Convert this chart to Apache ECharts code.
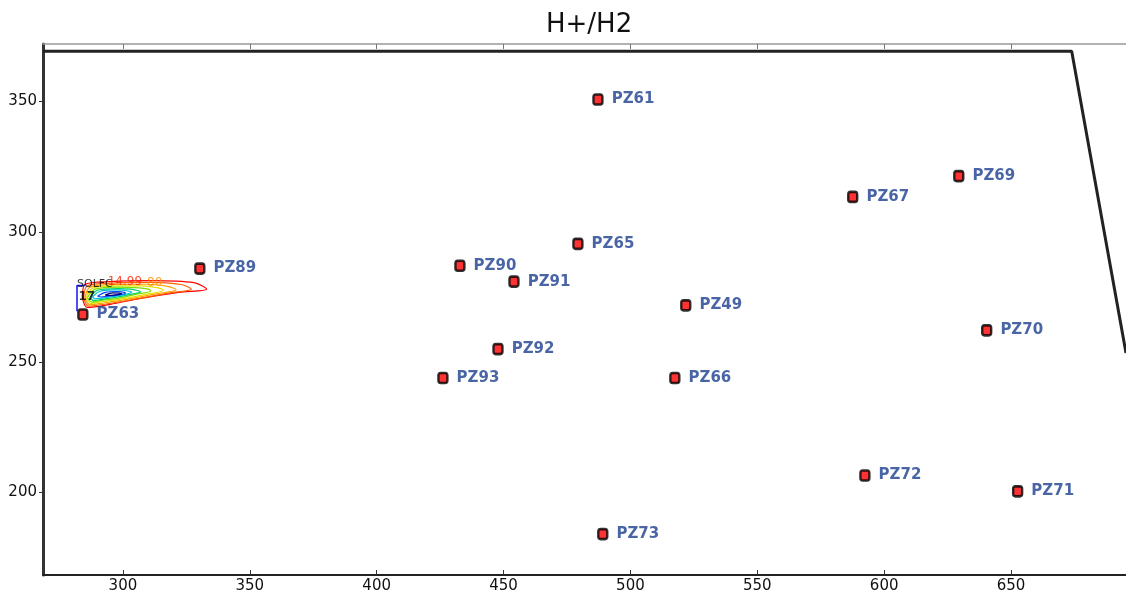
<!DOCTYPE html>
<html>
<head>
<meta charset="utf-8">
<script src="https://cdn.jsdelivr.net/npm/echarts@6/dist/echarts.min.js"></script>
<style>html,body{margin:0;padding:0;background:#fff;overflow:hidden}#c{width:1126px;height:594px}</style>
</head>
<body>
<div id="c"></div>
<script>
// ---- data ----
var names = ['PZ61','PZ69','PZ67','PZ65','PZ90','PZ89','PZ91','PZ49','PZ63','PZ70','PZ92','PZ93','PZ66','PZ72','PZ71','PZ73'];
var xs    = [487.2, 629.4, 587.6, 479.3, 432.8, 330.3, 454.1, 521.8, 284.2, 640.4, 447.8, 426.1, 517.5, 592.4, 652.6, 489.1];
var ys    = [350.8, 321.4, 313.4, 295.4, 287.0, 285.9, 280.9, 271.8, 268.3, 262.2, 255.0, 243.9, 243.9, 206.5, 200.4, 184.0];

var xTicks = [300, 350, 400, 450, 500, 550, 600, 650];
var yTicks = [200, 250, 300, 350];

// boundary line (phase boundary)
var boundary = [[268.5, 369.3], [673.9, 369.3], [695.3, 253.5]];

// contour lines (outer -> inner)
var contourColors = ['#ff0000', '#ff6000', '#ffa000', '#e8e000', '#80e000', '#00d060', '#00c0e0', '#0040ff', '#000080'];
var contours = [
  [[284,274.5],[285,279.8],[295,280.9],[311,281.3],[328,280.5],[333,278],[322,276.8],[307,274.5],[295,272.2],[286,271],[284,274.5]],
  [[284.5,274.5],[286,279.3],[296,280.3],[310,280.6],[323,279.8],[327,278],[318,276.5],[305,274.2],[294,272.4],[286.5,271.5],[284.5,274.5]],
  [[285,274.5],[287,278.8],[297,279.8],[309,279.9],[318,279],[321,277.8],[313,276.2],[302,274.2],[293,272.8],[287,272],[285,274.5]],
  [[285.5,274.6],[288,278.4],[297,279.3],[307,279.3],[314,278.5],[316,277.6],[309,276],[300,274.3],[292,273.2],[287.5,272.5],[285.5,274.6]],
  [[286,274.7],[289,278],[298,278.8],[305,278.6],[310,278],[311,277.3],[305,276],[298,274.5],[291,273.6],[288,273],[286,274.7]],
  [[287,274.8],[290,277.6],[298,278.2],[303,278],[306,277.4],[307,277],[302,275.8],[296,274.7],[291,274],[288.5,273.6],[287,274.8]],
  [[288,275],[291,277.2],[298,277.7],[302,277.3],[303.5,276.9],[300,275.8],[295,275],[291,274.5],[289,274.3],[288,275]],
  [[290,275.3],[293,276.8],[298,277.1],[300.5,276.8],[301,276.4],[298,275.8],[294,275.3],[291.5,275],[290,275.3]],
  [[293,275.8],[296,276.6],[299,276.5],[299.5,276.2],[297,275.8],[294,275.6],[293,275.8]]
];
var bracket = [[285, 279.4], [281.9, 279.4], [281.9, 269.5]];
var contourTexts = [
  {t: 'SOLFC', x: 281.9, y: 280.0, c: '#000000', s: 11, w: 'normal'},
  {t: '14.99', x: 294.0, y: 280.8, c: '#ff2000', s: 12, w: 'normal'},
  {t: '80', x: 309.5, y: 280.6, c: '#ff9000', s: 12, w: 'normal'},
  {t: '17', x: 282.5, y: 275.2, c: '#000000', s: 12, w: 'bold'}
];

// ---- chart ----
var chart = echarts.init(document.getElementById('c'));
var series = [];
series.push({
  type: 'line', data: boundary, symbol: 'none', silent: true, z: 3,
  lineStyle: {color: '#222', width: 3}
});
contours.forEach(function (c, i) {
  series.push({
    type: 'line', data: c, symbol: 'none', silent: true, z: 2, smooth: 0.3,
    lineStyle: {color: contourColors[i], width: 1.2}
  });
});
series.push({
  type: 'line', data: bracket, symbol: 'none', silent: true, z: 2,
  lineStyle: {color: '#1010ff', width: 1.5}
});
series.push({
  type: 'scatter', silent: true, z: 4, symbolSize: 0,
  data: contourTexts.map(function (d) {
    return {value: [d.x, d.y], label: {show: true, formatter: d.t, color: d.c, position: 'right', distance: 0,
      fontSize: d.s, fontFamily: 'DejaVu Sans', fontWeight: d.w}};
  })
});
series.push({
  type: 'scatter', z: 5,
  symbol: 'roundRect', symbolSize: [9, 10],
  itemStyle: {color: '#ff0000', borderColor: '#000', borderWidth: 2.5},
  data: names.map(function (n, i) { return {name: n, value: [xs[i], ys[i]]}; }),
  label: {
    show: true, position: 'right', distance: 8,
    formatter: function (p) { return p.name; },
    color: '#1c3f8f', fontSize: 15, fontWeight: 'bold', fontFamily: 'DejaVu Sans'
  }
});

chart.setOption({
  animation: false,
  backgroundColor: '#fff',
  title: {
    text: 'H+/H2', left: 541, top: 7,
    textStyle: {fontFamily: 'DejaVu Sans', fontSize: 26, fontWeight: 'normal', color: '#111'}
  },
  grid: {left: 43, right: 0, top: 44, bottom: 16, containLabel: false},
  xAxis: [{
    type: 'value', min: 268.5, max: 695.3, position: 'bottom',
    axisLine: {show: true, lineStyle: {color: '#222', width: 2}},
    axisTick: {show: true, inside: true, length: 5, customValues: xTicks, lineStyle: {color: '#333'}},
    axisLabel: {show: true, customValues: xTicks, color: '#111', fontSize: 15, fontFamily: 'DejaVu Sans', margin: 4},
    splitLine: {show: false}
  }, {
    type: 'value', min: 268.5, max: 695.3, position: 'top',
    axisLine: {show: true, lineStyle: {color: '#999', width: 1.5}},
    axisTick: {show: true, inside: true, length: 5, customValues: xTicks, lineStyle: {color: '#777'}},
    axisLabel: {show: false},
    splitLine: {show: false}
  }],
  yAxis: [{
    type: 'value', min: 168.3, max: 372.1,
    axisLine: {show: true, lineStyle: {color: '#333', width: 3}},
    axisTick: {show: true, inside: false, length: 4, customValues: yTicks, lineStyle: {color: '#333'}},
    axisLabel: {show: true, customValues: yTicks, color: '#111', fontSize: 15, fontFamily: 'DejaVu Sans', margin: 6},
    splitLine: {show: false}
  }],
  series: series
});
</script>
</body>
</html>
